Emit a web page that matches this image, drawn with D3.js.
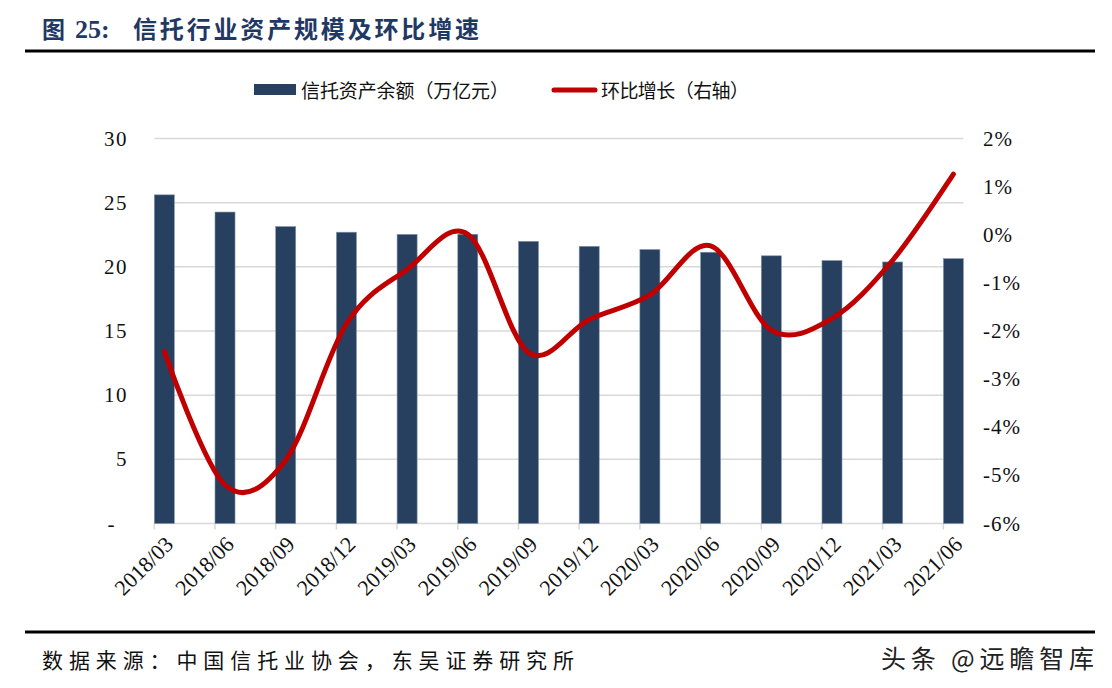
<!DOCTYPE html>
<html><head><meta charset="utf-8">
<script src="https://cdn.jsdelivr.net/npm/d3@7"></script>
<style>body{margin:0;background:#fff}svg{display:block}</style>
</head><body>
<svg id="c" width="1112" height="688"></svg>
<script>
const categories = ["2018/03","2018/06","2018/09","2018/12","2019/03","2019/06","2019/09","2019/12","2020/03","2020/06","2020/09","2020/12","2021/03","2021/06"];
const assets = [25.61,24.27,23.14,22.70,22.53,22.54,21.99,21.60,21.35,21.14,20.86,20.49,20.38,20.64];
const growth = [-2.43,-5.20,-4.68,-1.85,-0.72,0.01,-2.45,-1.76,-1.25,-0.23,-1.98,-1.74,-0.53,1.26];
const leftTicks = [0,5,10,15,20,25,30];
const rightTicks = [-6,-5,-4,-3,-2,-1,0,1,2];
const titleText = "信托行业资产规模及环比增速";
const barName = "信托资产余额（万亿元）";
const lineName = "环比增长（右轴）";
const sourceText = "数据来源：中国信托业协会，东吴证券研究所";
const watermark = "头条 @远瞻智库";

const svg = d3.select("#c");
const CJK = "'Noto Sans CJK SC','Noto Sans',sans-serif";
const SERIF = "'Liberation Serif','Times New Roman',serif";
const L = 154.3, R = 963.4, T = 138.5, B = 523.5;

const x = d3.scaleBand().domain(categories).range([L, R]).paddingInner(0.67).paddingOuter(0).align(0);
const yL = d3.scaleLinear().domain([0,30]).range([B,T]);
const yR = d3.scaleLinear().domain([-6,2]).range([B,T]);
const bw = x.bandwidth();

// title
svg.append("text").attr("x",42).attr("y",38).attr("fill","#1F3864").attr("font-weight","bold")
  .attr("font-family",CJK).attr("font-size",23).text("图");
svg.append("text").attr("x",75).attr("y",38).attr("fill","#1F3864").attr("font-weight","bold")
  .attr("font-family",SERIF).attr("font-size",26).text("25:");
svg.append("text").attr("x",133).attr("y",38).attr("fill","#1F3864").attr("font-weight","bold")
  .attr("font-family",CJK).attr("font-size",24).attr("textLength",346).attr("lengthAdjust","spacing").text(titleText);
svg.append("rect").attr("x",25).attr("y",49.5).attr("width",1070).attr("height",3).attr("fill","#000");

// legend
svg.append("rect").attr("x",254).attr("y",84).attr("width",42).attr("height",11).attr("fill","#27405F");
svg.append("text").attr("x",301).attr("y",89.5).attr("dominant-baseline","central").attr("font-family",CJK)
  .attr("font-size",19).attr("fill","#111").attr("textLength",208).attr("lengthAdjust","spacing").text(barName);
svg.append("line").attr("x1",554).attr("x2",595).attr("y1",90).attr("y2",90).attr("stroke","#C00000")
  .attr("stroke-width",5).attr("stroke-linecap","round");
svg.append("text").attr("x",601).attr("y",89.5).attr("dominant-baseline","central").attr("font-family",CJK)
  .attr("font-size",19).attr("fill","#111").attr("textLength",148).attr("lengthAdjust","spacing").text(lineName);

// gridlines
svg.append("g").selectAll("line").data(leftTicks.filter(d=>d>0)).join("line")
  .attr("x1",L).attr("x2",R).attr("y1",d=>yL(d)).attr("y2",d=>yL(d))
  .attr("stroke","#d9d9d9").attr("stroke-width",1.5);

// x axis line + ticks
svg.append("line").attr("x1",L).attr("x2",R).attr("y1",B).attr("y2",B).attr("stroke","#d9d9d9").attr("stroke-width",1.5);
svg.append("g").selectAll("line").data(categories).join("line")
  .attr("x1",d=>x(d)).attr("x2",d=>x(d)).attr("y1",B).attr("y2",B+6).attr("stroke","#d9d9d9").attr("stroke-width",1.5);

// bars
svg.append("g").selectAll("rect").data(assets).join("rect")
  .attr("x",(d,i)=>x(categories[i])).attr("width",bw)
  .attr("y",d=>yL(d)).attr("height",d=>yL(0)-yL(d))
  .attr("fill","#27405F").attr("stroke","#8497b0").attr("stroke-width",0.6);

// line
const line = d3.line().x((d,i)=>x(categories[i])+bw/2).y(d=>yR(d)).curve(d3.curveCardinal.tension(0));
svg.append("path").datum(growth).attr("d",line).attr("fill","none").attr("stroke","#C00000")
  .attr("stroke-width",5).attr("stroke-linecap","round").attr("stroke-linejoin","round");

// left axis labels
svg.append("g").selectAll("text").data(leftTicks).join("text")
  .attr("x",d=>d===0?116:128).attr("y",d=>yL(d)).attr("dominant-baseline","central").attr("text-anchor","end")
  .attr("font-family",SERIF).attr("font-size",21).attr("letter-spacing",1.5).attr("fill","#111")
  .text(d=>d===0?"-":String(d));

// right axis labels
svg.append("g").selectAll("text").data(rightTicks).join("text")
  .attr("x",983).attr("y",d=>yR(d)).attr("dominant-baseline","central").attr("text-anchor","start")
  .attr("font-family",SERIF).attr("font-size",21).attr("letter-spacing",1).attr("fill","#111")
  .text(d=>(d<0?"-":"")+Math.abs(d)+"%");

// x labels
svg.append("g").selectAll("text").data(categories).join("text")
  .attr("transform",d=>`translate(${x(d)+bw/2+5},${B+17}) rotate(-45)`)
  .attr("text-anchor","end").attr("dominant-baseline","central")
  .attr("font-family",SERIF).attr("font-size",22).attr("fill","#111").text(d=>d);

// footer
svg.append("rect").attr("x",25).attr("y",630.5).attr("width",1070).attr("height",3).attr("fill","#000");
svg.append("text").attr("x",42).attr("y",659).attr("dominant-baseline","central").attr("font-family",CJK)
  .attr("font-size",21).attr("fill","#111").attr("textLength",532).attr("lengthAdjust","spacing").text(sourceText);
svg.append("text").attr("x",881).attr("y",657).attr("dominant-baseline","central").attr("font-family",CJK)
  .attr("font-size",25).attr("fill","#222").attr("textLength",213).attr("lengthAdjust","spacing").text(watermark);
</script>
</body></html>
